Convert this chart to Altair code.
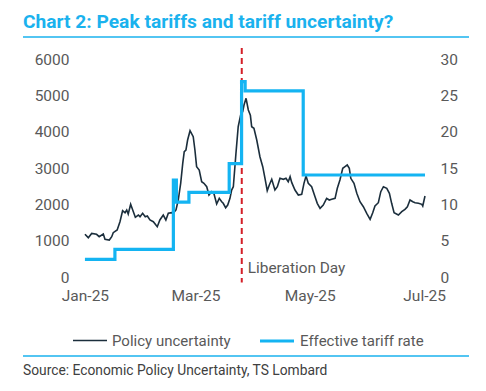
import altair as alt
import pandas as pd

# ---- data (day offsets from 1 Jan 2025) ----
pu_day = [0, 1.8, 3.6, 6.2, 7.6, 9.8, 10.7, 13.0, 14.3, 15.1, 17.2, 18.7, 20.1, 21.4, 22.3, 23.1,
          24.4, 25.5, 26.9, 28.5, 29.4, 30.8, 32.2, 33.3, 34.7, 36.5, 38.6, 40.0, 41.8, 43.2, 44.5,
          46.3, 47.1, 48.6, 49.8, 51.1, 52.2, 53.0, 53.9, 54.8, 56.1, 57.8, 58.7, 59.6, 61.0, 62.3,
          63.5, 65.0, 66.2, 67.6, 68.9, 70.3, 71.7, 73.0, 73.8, 75.1, 76.2, 77.4, 78.3, 79.2, 80.6,
          81.8, 83.1, 84.2, 84.9, 86.0, 87.2, 88.3, 89.0, 90.2, 91.7, 93.4, 94.9, 96.1, 97.3, 98.4,
          99.7, 101.4, 102.7, 104.1, 105.9, 107.3, 108.5, 109.5, 110.4, 112.1, 113.9, 115.7, 116.9,
          118.0, 119.2, 121.0, 122.8, 124.0, 125.5, 127.2, 129.0, 130.4, 131.7, 133.5, 134.7, 136.1,
          137.6, 138.8, 140.0, 141.1, 141.9, 143.6, 145.1, 146.8, 148.6, 150.4, 152.2, 153.6, 154.8,
          156.6, 157.9, 159.3, 161.1, 162.5, 163.7, 165.0, 167.3, 169.1, 170.8, 172.1, 173.5, 175.0,
          176.2, 178.0, 179.8, 180.3, 181.5]
pu_val = [1175, 1082, 1200, 1175, 1110, 1183, 1037, 1018, 1110, 1220, 1293, 1522, 1825, 1770, 1844, 1734,
          2000, 1844, 1643, 1706, 1660, 1753, 1660, 1679, 1569, 1522, 1385, 1569, 1706, 1569, 1753,
          1770, 1753, 1844, 2119, 2578, 3129, 3449, 3495, 3770, 4026, 3861, 3495, 3036, 2945, 2623,
          2578, 2485, 2257, 2348, 2284, 2009, 2166, 2073, 2028, 1907, 1981, 2166, 2394, 2485, 3404,
          4136, 4458, 4549, 4733, 4918, 4596, 4450, 4136, 4092, 3770, 3311, 3036, 2716, 2375, 2532,
          2689, 2394, 2485, 2716, 2689, 2716, 2623, 2761, 2596, 2394, 2257, 2276, 2578,
          2780, 2578, 2485, 2210, 2028, 1890, 1981, 2166, 2119, 2138, 2166, 2441, 2670,
          2991, 3036, 3082, 2991, 2716, 2578, 2303, 2073, 1935, 1753, 1588, 1770, 1954,
          2045, 2348, 2485, 2441, 2303, 2028, 1770, 1706, 1797, 1862, 1935, 2119, 2073,
          2045, 2028, 2000, 1954, 2229]

tr_day = [0, 16, 47.2, 48.8, 55.5, 77, 83.6, 85.5, 116.5, 181.5]
tr_val = [2.43, 3.8, 13.35, 10.3, 11.65, 15.6, 26.9, 25.6, 14.04, 14.04]

series_names = ["Policy uncertainty", "Effective tariff rate"]
series_colors = ["#1B2E3C", "#14B4F2"]
lib_day = 83.7
lib_label = "Liberation Day"
x_tick_days = [0, 59, 120, 181]
x_tick_labels = ["Jan-25", "Mar-25", "May-25", "Jul-25"]
left_ticks = [0, 1000, 2000, 3000, 4000, 5000, 6000]
right_ticks = [0, 5, 10, 15, 20, 25, 30]
title_text = "Chart 2: Peak tariffs and tariff uncertainty?"
source_text = "Source: Economic Policy Uncertainty, TS Lombard"

pu = pd.DataFrame({"day": pu_day, "value": pu_val, "series": series_names[0]})
tr = pd.DataFrame({"day": tr_day, "value": tr_val, "series": series_names[1]})

FONT = "Roboto"
GREY = "#595959"
BLUE = "#1AB2EE"
AX_FS = 15.5

label_expr = " : ".join(
    [f"datum.value == {d} ? '{l}'" for d, l in zip(x_tick_days[:-1], x_tick_labels[:-1])]
) + f" : '{x_tick_labels[-1]}'"

xscale = alt.Scale(domain=[-0.5, 181.5], nice=False, zero=False)
xaxis = alt.Axis(values=x_tick_days, labelExpr=label_expr, domain=False, ticks=False, grid=False,
                 labelFontSize=AX_FS, labelColor=GREY, labelFont=FONT, labelPadding=11,
                 labelOverlap=False, labelFlush=False, labelBound=False, title=None)
lscale = alt.Scale(domain=[0, 6000], nice=False)
laxis = alt.Axis(values=left_ticks, format="d", domain=False, ticks=False,
                 grid=False, labelFontSize=AX_FS, labelColor=GREY, labelFont=FONT,
                 labelPadding=15, labelOverlap=False, labelFlush=False, labelBound=False,
                 title=None, orient="left")

color = alt.Color("series:N", scale=alt.Scale(domain=series_names, range=series_colors),
                  legend=alt.Legend(orient="none", legendX=-12, legendY=263, direction="horizontal",
                                    title=None, symbolType="stroke", symbolSize=1156,
                                    symbolStrokeWidth=2.5, labelFontSize=15, labelFont=FONT,
                                    labelColor=GREY, labelOffset=4, columnPadding=22))
swidth = alt.StrokeWidth("series:N", scale=alt.Scale(domain=series_names, range=[1.6, 3.2]), legend=None)

pu_line = alt.Chart(pu).mark_line().encode(
    x=alt.X("day:Q", scale=xscale, axis=xaxis),
    y=alt.Y("value:Q", scale=lscale, axis=laxis),
    color=color,
    strokeWidth=swidth,
)

rule_df = pd.DataFrame({"day": [lib_day], "top": [6300], "bot": [-150], "lab": [lib_label], "ly": [250]})
lib_rule = alt.Chart(rule_df).mark_rule(color="#D42028", strokeDash=[6, 4], strokeWidth=2).encode(
    x=alt.X("day:Q", axis=xaxis), y=alt.Y("top:Q", axis=laxis), y2="bot:Q")
lib_text = alt.Chart(rule_df).mark_text(align="left", baseline="middle", dx=6, fontSize=15.4,
                                        font=FONT, color=GREY).encode(
    x=alt.X("day:Q", axis=xaxis), y=alt.Y("ly:Q", axis=laxis), text="lab:N")

one = pd.DataFrame({"a": [0]})
title_mark = alt.Chart(one).mark_text(align="left", baseline="alphabetic", fontSize=19.2, font=FONT,
                                      fontWeight="bold", color=BLUE, text=title_text).encode(
    x=alt.value(-61), y=alt.value(-31))
top_rule = alt.Chart(one).mark_rule(color=BLUE, strokeWidth=1.5).encode(
    x=alt.value(-61), x2=alt.value(385), y=alt.value(-22))
bot_rule = alt.Chart(one).mark_rule(color=BLUE, strokeWidth=1.5).encode(
    x=alt.value(-61), x2=alt.value(385), y=alt.value(297))
source_mark = alt.Chart(one).mark_text(align="left", baseline="middle", fontSize=13.8, font=FONT,
                                       color="#404040", text=source_text).encode(
    x=alt.value(-61), y=alt.value(312))

left = alt.layer(pu_line, lib_rule, lib_text, title_mark, top_rule, bot_rule, source_mark)

tr_line = alt.Chart(tr).mark_line(interpolate="step-after").encode(
    x=alt.X("day:Q", scale=xscale, axis=xaxis),
    y=alt.Y("value:Q", scale=alt.Scale(domain=[0, 30], nice=False),
            axis=alt.Axis(values=right_ticks, domain=False, ticks=False, grid=False,
                          labelFontSize=AX_FS, labelColor=GREY, labelFont=FONT, labelPadding=15,
                          labelOverlap=False, labelFlush=False, labelBound=False,
                          title=None, orient="right")),
    color=color,
    strokeWidth=swidth,
)

chart = alt.layer(left, tr_line).resolve_scale(y="independent").properties(
    width=341, height=218,
    padding={"left": 76, "top": 51, "right": 53, "bottom": 106},
    autosize=alt.AutoSizeParams(type="none"),
    background="white",
).configure_view(stroke=None)

chart.save("out.html", embed_options={"renderer": "svg", "actions": False})
